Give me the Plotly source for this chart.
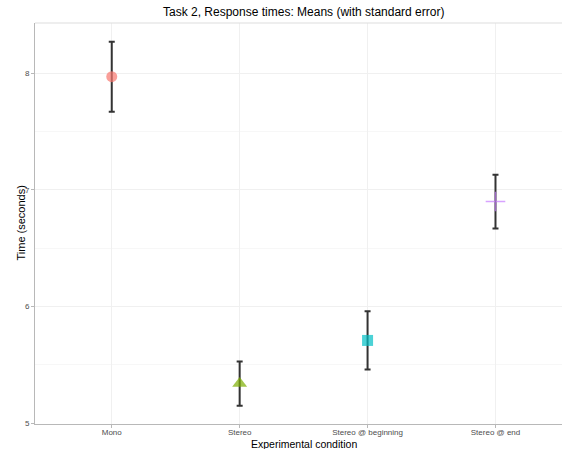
import plotly.graph_objects as go

conditions = ["Mono", "Stereo", "Stereo @ beginning", "Stereo @ end"]
mean_times = [7.97, 5.34, 5.71, 6.90]
std_errors = [0.30, 0.19, 0.25, 0.23]
colors = ["#F8766D", "#7CAE00", "#00BFC4", "#C77CFF"]
symbols = ["circle", "triangle-up", "square", "cross-thin-open"]
sizes = [11, 13, 11, 14]
line_widths = [0, 0, 0, 1.5]

fig = go.Figure()
fig.add_trace(go.Scatter(
    x=conditions, y=mean_times, mode="markers",
    error_y=dict(type="data", array=std_errors, visible=True,
                 color="#333333", thickness=2, width=3),
    marker=dict(symbol=symbols, color=colors, size=sizes,
                line=dict(color=colors, width=line_widths)),
    showlegend=False, hoverinfo="skip",
))

family = "Liberation Sans, Arial, sans-serif"
axis_font = dict(family=family, size=8, color="#4d4d4d")
fig.update_layout(
    width=562, height=449,
    margin=dict(l=35, r=0, t=23, b=25, autoexpand=False),
    paper_bgcolor="white", plot_bgcolor="white",
    font=dict(family=family, color="black"),
    xaxis=dict(range=[-0.6, 3.52], tickfont=axis_font, showgrid=True,
               gridcolor="#f0f0f0", gridwidth=1, zeroline=False, automargin=False,
               showline=True, linecolor="#b8b8b8", linewidth=1,
               ticks="outside", ticklen=3, tickcolor="#b8b8b8",
               ticklabelstandoff=-3),
    yaxis=dict(range=[4.994, 8.43], tickvals=[5, 6, 7, 8], tickfont=axis_font,
               showgrid=True, gridcolor="#f0f0f0", gridwidth=1, zeroline=False,
               automargin=False,
               showline=True, linecolor="#b8b8b8", linewidth=1,
               ticks="outside", ticklen=3, tickcolor="#b8b8b8",
               minor=dict(tickvals=[5.5, 6.5, 7.5], showgrid=True,
                          gridcolor="#f7f7f7", gridwidth=1)),
    shapes=[dict(type="line", xref="paper", yref="paper", x0=0, x1=1, y0=1, y1=1,
                 line=dict(color="#dddddd", width=1))],
    annotations=[
        dict(text="Task 2, Response times: Means (with standard error)",
             xref="paper", yref="paper", x=0.51, y=1, yshift=2,
             xanchor="center", yanchor="bottom", showarrow=False,
             font=dict(size=12, family=family, color="black")),
        dict(text="Experimental condition", xref="paper", yref="paper",
             x=0.51, y=0, yshift=-12, xanchor="center", yanchor="top",
             showarrow=False, font=dict(size=10.5, family=family, color="black")),
        dict(text="Time (seconds)", xref="paper", yref="paper",
             x=0, xshift=-15, y=0.5, textangle=-90, xanchor="center",
             yanchor="middle", showarrow=False,
             font=dict(size=11, family=family, color="black")),
    ],
)

fig.write_html(
    "out.html",
    config={"displayModeBar": False},
    post_script="document.body.style.margin='0';document.body.style.overflow='hidden';",
)
